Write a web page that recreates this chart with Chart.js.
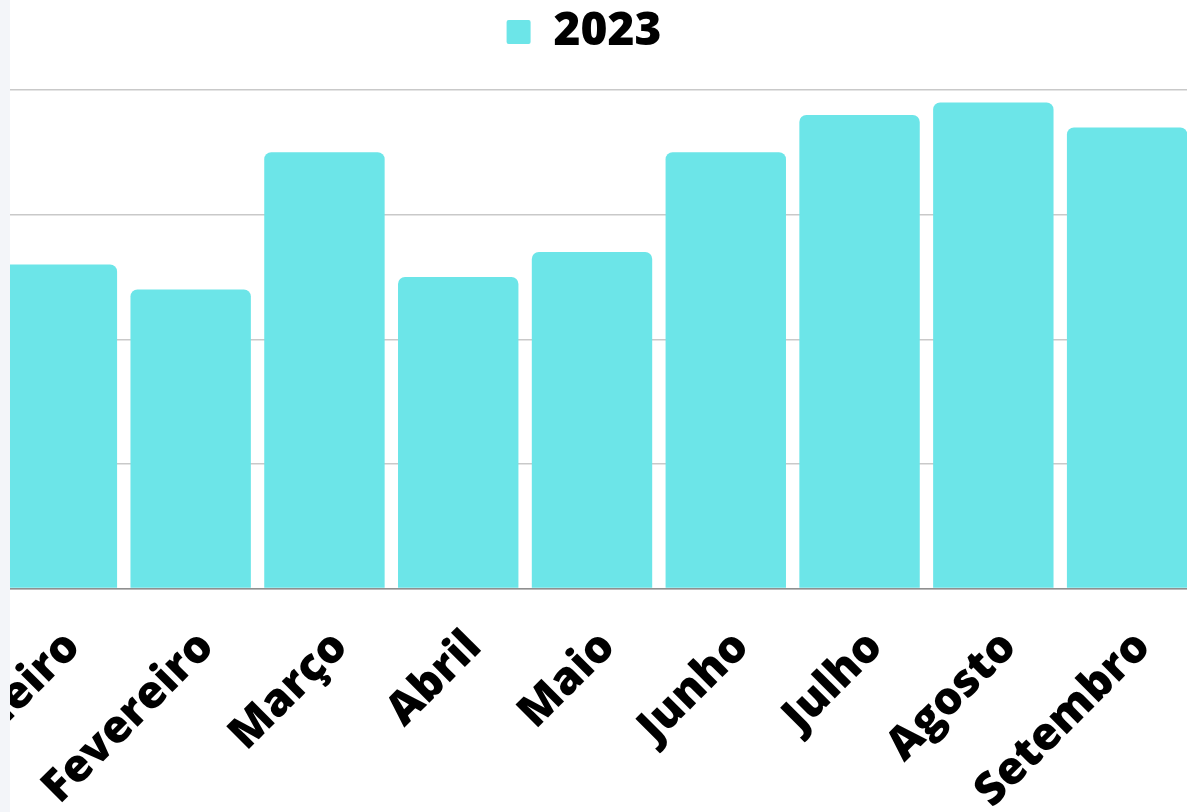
<!DOCTYPE html>
<html lang="pt-BR">
<head>
    <meta charset="UTF-8">
    <title>2023</title>
    <script src="https://cdn.jsdelivr.net/npm/chart.js"></script>
    <style>
        html, body {
            margin: 0;
            padding: 0;
            background: #fff;
            overflow: hidden;
        }
        .frame {
            position: absolute;
            left: 0;
            top: 0;
            width: 1187px;
            height: 812px;
            overflow: hidden;
            background: #fff;
        }
        .chart-box {
            position: absolute;
            left: -26px;
            top: 0;
            width: 1220px;
            height: 812px;
        }
        .side-strip {
            position: absolute;
            left: 0;
            top: 0;
            width: 10px;
            height: 812px;
            background: #f3f5f9;
            z-index: 2;
        }
    </style>
</head>
<body>
    <div class="frame">
        <div class="chart-box">
            <canvas id="barChart"></canvas>
        </div>
    </div>
    <div class="side-strip"></div>

    <script>
        const categories = ['Janeiro', 'Fevereiro', 'Março', 'Abril', 'Maio', 'Junho', 'Julho', 'Agosto', 'Setembro'];
        const seriesName = '2023';
        const values2023 = [26, 24, 35, 25, 27, 35, 38, 39, 37];
        const yTicks = [0, 10, 20, 30, 40];

        const barColor = '#6ce5e8';
        const fontFamily = "'Open Sans', sans-serif";

        // legend sits higher than chart.js puts it, so give its box extra room below
        const legendGap = {
            id: 'legendGap',
            beforeLayout(chart) {
                const legend = chart.legend;
                if (legend && !legend._gapPatched) {
                    const baseFit = legend.fit;
                    legend.fit = function() {
                        baseFit.call(this);
                        this.height += 25;
                    };
                    legend._gapPatched = true;
                }
            }
        };

        const ctx = document.getElementById('barChart').getContext('2d');
        const chart = new Chart(ctx, {
            type: 'bar',
            data: {
                labels: categories,
                datasets: [{
                    label: seriesName,
                    data: values2023,
                    backgroundColor: barColor,
                    borderWidth: 0,
                    borderRadius: 7,
                    barPercentage: 0.9,
                    categoryPercentage: 1.0
                }]
            },
            plugins: [legendGap],
            options: {
                responsive: true,
                maintainAspectRatio: false,
                animation: false,
                layout: { padding: 0 },
                plugins: {
                    legend: {
                        position: 'top',
                        align: 'center',
                        labels: {
                            color: '#000',
                            font: { family: fontFamily, weight: '800', size: 46 },
                            boxWidth: 24,
                            boxHeight: 24,
                            useBorderRadius: true,
                            borderRadius: 2,
                            padding: 9
                        }
                    },
                    tooltip: { enabled: false }
                },
                scales: {
                    x: {
                        grid: { display: false },
                        border: { display: true, color: '#8f8f8f', width: 1.5 },
                        ticks: {
                            color: '#000',
                            font: { family: fontFamily, weight: '800', size: 45 },
                            minRotation: 45,
                            maxRotation: 45,
                            autoSkip: false,
                            padding: 24,
                            labelOffset: 16
                        },
                        afterFit: function(scale) {
                            scale.paddingLeft = 0;
                            scale.paddingRight = 0;
                            scale.height = 812 - 588.5;
                        }
                    },
                    y: {
                        min: yTicks[0],
                        max: yTicks[yTicks.length - 1],
                        ticks: {
                            display: false,
                            stepSize: yTicks[1] - yTicks[0]
                        },
                        grid: {
                            color: '#c9c9c9',
                            lineWidth: 1.5,
                            drawTicks: false
                        },
                        border: { display: false },
                        afterFit: function(scale) {
                            scale.width = 16;
                        }
                    }
                }
            }
        });
    </script>
</body>
</html>
